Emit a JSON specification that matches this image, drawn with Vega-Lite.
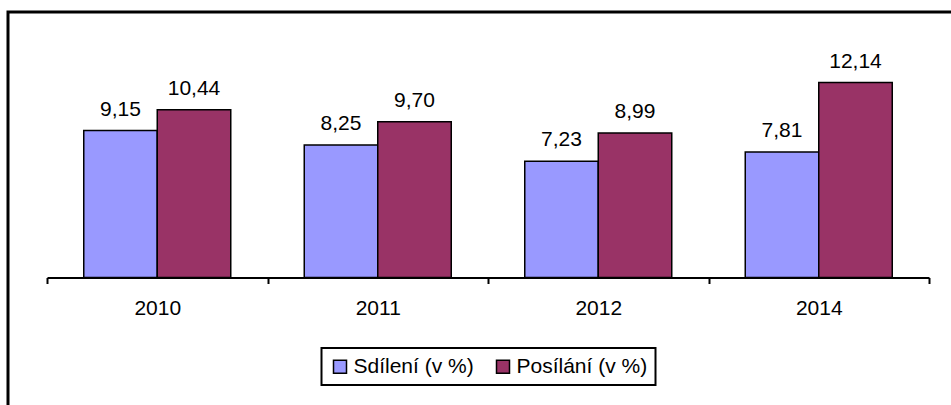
{
  "$schema": "https://vega.github.io/schema/vega-lite/v6.json",
  "width": 951,
  "height": 405,
  "padding": {"left": 8, "top": 12, "right": -8, "bottom": -12},
  "autosize": {"type": "fit", "contains": "padding"},
  "background": "white",
  "config": {
    "view": {"stroke": "black", "strokeWidth": 3},
    "locale": {"number": {"decimal": ",", "thousands": " ", "grouping": [3], "currency": ["", " Kč"]}},
    "font": "Liberation Sans"
  },
  "data": {
    "values": [
      {"rok": "2010", "serie": "Sdílení (v %)", "hodnota": 9.15},
      {"rok": "2010", "serie": "Posílání (v %)", "hodnota": 10.44},
      {"rok": "2011", "serie": "Sdílení (v %)", "hodnota": 8.25},
      {"rok": "2011", "serie": "Posílání (v %)", "hodnota": 9.70},
      {"rok": "2012", "serie": "Sdílení (v %)", "hodnota": 7.23},
      {"rok": "2012", "serie": "Posílání (v %)", "hodnota": 8.99},
      {"rok": "2014", "serie": "Sdílení (v %)", "hodnota": 7.81},
      {"rok": "2014", "serie": "Posílání (v %)", "hodnota": 12.14}
    ]
  },
  "encoding": {
    "x": {
      "field": "rok",
      "type": "nominal",
      "sort": null,
      "scale": {"type": "band", "range": [39, 921], "paddingInner": 0, "paddingOuter": 0},
      "axis": {
        "title": null,
        "orient": "bottom",
        "offset": {"expr": "265.5 - height"},
        "domainColor": "black",
        "domainWidth": 2,
        "tickColor": "black",
        "tickWidth": 2,
        "tickSize": 6,
        "tickBand": "extent",
        "labelFontSize": 21,
        "labelColor": "black",
        "labelPadding": 14,
        "labelAngle": 0,
        "grid": false
      }
    },
    "xOffset": {
      "field": "serie",
      "type": "nominal",
      "sort": ["Sdílení (v %)", "Posílání (v %)"],
      "scale": {"paddingInner": 0, "paddingOuter": 0.5}
    },
    "y": {
      "field": "hodnota",
      "type": "quantitative",
      "scale": {"domain": [0, 16.53], "range": [265.5, 0], "nice": false, "zero": true},
      "axis": null
    }
  },
  "layer": [
    {
      "mark": {"type": "bar", "stroke": "black", "strokeWidth": 1.5},
      "encoding": {
        "color": {
          "field": "serie",
          "type": "nominal",
          "scale": {"domain": ["Sdílení (v %)", "Posílání (v %)"], "range": ["#9999FF", "#993366"]},
          "legend": {
            "orient": "none",
            "legendX": 313.5,
            "legendY": 336,
            "direction": "horizontal",
            "title": null,
            "strokeColor": "black",
            "padding": 8,
            "symbolType": "square",
            "symbolSize": 169,
            "symbolStrokeColor": "black",
            "symbolStrokeWidth": 1.5,
            "symbolOpacity": 1,
            "labelFontSize": 21,
            "labelColor": "black",
            "labelOffset": 3,
            "labelLimit": 300,
            "columnPadding": 18,
            "encode": {"legend": {"update": {"strokeWidth": {"value": 2}}}}
          }
        }
      }
    },
    {
      "mark": {"type": "text", "dy": -15, "baseline": "alphabetic", "fontSize": 21, "color": "black"},
      "encoding": {
        "text": {"field": "hodnota", "type": "quantitative", "format": ".2f"}
      }
    }
  ]
}
